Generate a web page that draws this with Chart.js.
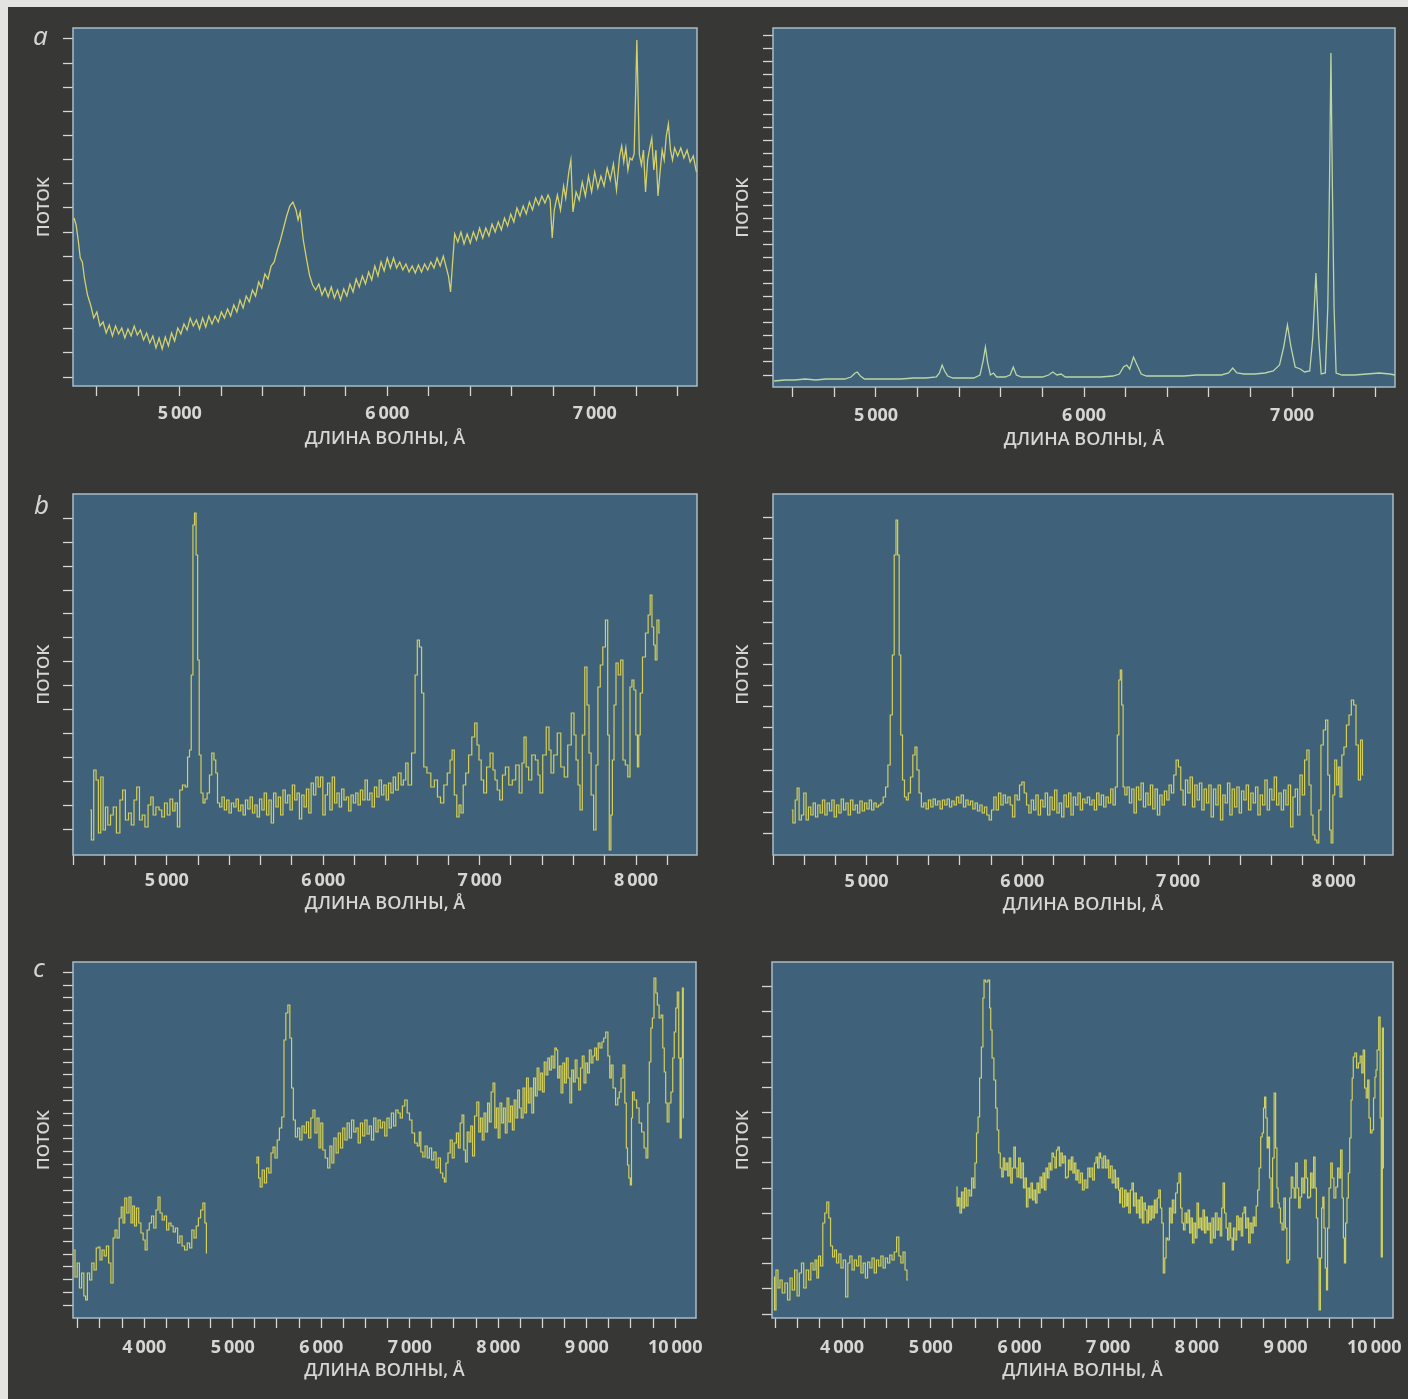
<!DOCTYPE html>
<html>
<head>
<meta charset="utf-8">
<script src="https://cdn.jsdelivr.net/npm/chart.js@4.4.1/dist/chart.umd.min.js"></script>
<style>
  html, body { margin: 0; padding: 0; }
  body { width: 1408px; height: 1399px; background: #e3e3e1; position: relative; overflow: hidden; }
  #sheet { position: absolute; left: 8px; top: 7px; right: 0; bottom: 0; background: #373735; }
  canvas { position: absolute; }
  .tag { position: absolute; color: #d4d4d4; font: italic 26px "Noto Sans", "DejaVu Sans", sans-serif; }
</style>
</head>
<body>
<div id="sheet"></div>
<canvas id="aLeft" width="704" height="460" style="left:0;top:0"></canvas>
<canvas id="aRight" width="704" height="460" style="left:704px;top:0"></canvas>
<canvas id="bLeft" width="704" height="470" style="left:0;top:460px"></canvas>
<canvas id="bRight" width="704" height="470" style="left:704px;top:460px"></canvas>
<canvas id="cLeft" width="704" height="469" style="left:0;top:930px"></canvas>
<canvas id="cRight" width="704" height="469" style="left:704px;top:930px"></canvas>
<div class="tag" style="left:33px;top:17px">a</div>
<div class="tag" style="left:34px;top:486px">b</div>
<div class="tag" style="left:33px;top:949px">c</div>
<script>
// tick labels (wavelength, Å)
const aTickLabels = [5000, 6000, 7000];
const bTickLabels = [5000, 6000, 7000, 8000];
const cTickLabels = [4000, 5000, 6000, 7000, 8000, 9000, 10000];

// flux is in arbitrary units (no scale on the original)
const aLeftWave = [
  4490,4500,4510,4520,4530,4540,4555,4570,4585,4600,
  4615,4630,4645,4660,4675,4690,4705,4720,4735,4750,
  4765,4780,4795,4810,4825,4840,4855,4870,4885,4900,
  4915,4930,4945,4960,4975,4990,5005,5020,5035,5050,
  5065,5080,5095,5110,5125,5140,5155,5170,5185,5200,
  5215,5230,5245,5260,5275,5290,5305,5320,5335,5350,
  5365,5380,5395,5410,5425,5440,5455,5470,5485,5500,
  5515,5530,5545,5560,5570,5580,5595,5610,5625,5640,
  5655,5670,5685,5700,5715,5730,5745,5760,5775,5790,
  5805,5820,5835,5850,5865,5880,5895,5910,5925,5940,
  5955,5970,5985,6000,6015,6030,6045,6060,6075,6090,
  6105,6120,6135,6150,6165,6180,6195,6210,6225,6240,
  6255,6270,6285,6295,6305,6315,6325,6340,6355,6370,
  6385,6400,6415,6430,6445,6460,6475,6490,6505,6520,
  6535,6550,6565,6580,6595,6610,6625,6640,6655,6670,
  6685,6700,6715,6730,6745,6760,6775,6785,6795,6805,
  6820,6835,6850,6860,6875,6885,6895,6910,6925,6940,
  6955,6970,6985,7000,7015,7030,7045,7060,7075,7090,
  7105,7120,7130,7140,7150,7160,7170,7180,7190,7198,
  7203,7208,7215,7225,7235,7245,7255,7265,7275,7285,
  7295,7305,7315,7325,7335,7345,7355,7365,7375,7385,
  7400,7415,7430,7445,7460,7475,7490
];
const aLeftFlux = [
  168,161,146,128,124,108,91,81,68,74,
  60,64,53,61,50,60,52,58,48,57,
  50,60,51,56,46,53,43,50,38,48,
  37,49,40,53,45,58,52,62,56,68,
  60,66,57,68,59,70,62,70,64,74,
  68,77,70,81,74,86,78,90,84,96,
  90,104,98,112,107,120,124,136,146,158,
  170,180,184,176,166,174,146,128,111,101,
  96,102,91,98,89,99,88,96,86,97,
  90,102,94,107,99,110,102,114,106,120,
  110,124,115,128,118,128,118,124,116,122,
  114,120,113,121,114,122,116,124,118,128,
  120,130,118,110,94,124,152,144,154,142,
  152,143,154,146,158,148,158,150,162,154,
  164,156,168,160,172,164,178,170,180,172,
  184,176,188,181,190,183,191,186,148,176,
  191,176,200,188,214,226,174,194,186,204,
  190,210,194,214,198,210,200,218,206,222,
  196,230,240,224,238,216,228,226,232,300,
  346,300,232,221,236,194,226,238,248,216,
  236,190,214,236,226,250,262,236,226,238,
  230,238,228,236,224,230,214
];

const aRightWave = [
  4510,4560,4610,4660,4710,4760,4810,4850,4880,4900,
  4910,4925,4945,5000,5060,5120,5180,5240,5290,5305,
  5318,5330,5345,5370,5420,5470,5500,5515,5526,5537,
  5550,5565,5580,5620,5645,5660,5675,5700,5760,5800,
  5830,5850,5870,5890,5910,5960,6020,6080,6140,6170,
  6190,6205,6220,6238,6255,6275,6300,6360,6420,6480,
  6540,6600,6660,6695,6715,6735,6770,6820,6870,6910,
  6940,6960,6978,6995,7015,7040,7060,7085,7100,7115,
  7128,7140,7160,7172,7180,7187,7194,7202,7212,7240,
  7300,7360,7420,7470,7495
];
const aRightFlux = [
  6,7,7,8,7,8,8,8,10,14,
  15,11,8,8,8,8,9,9,10,14,
  22,16,11,9,9,9,12,26,40,24,
  12,14,10,10,12,20,12,10,10,10,
  12,15,12,13,10,10,10,10,11,13,
  20,22,18,30,22,13,11,11,11,11,
  12,12,12,14,19,14,13,13,14,16,
  22,40,62,40,20,18,15,16,50,114,
  50,13,14,80,200,334,200,80,14,12,
  12,13,14,13,12
];

const bLeftWave = [
  4510,4525,4540,4555,4570,4585,4600,4615,4630,4650,
  4665,4690,4710,4725,4745,4765,4780,4800,4815,4835,
  4850,4870,4890,4905,4920,4940,4960,4975,4995,5010,
  5030,5045,5060,5075,5090,5110,5125,5140,5150,5162,
  5172,5182,5192,5202,5212,5225,5238,5250,5265,5280,
  5295,5308,5318,5330,5345,5360,5375,5390,5405,5420,
  5435,5450,5465,5480,5495,5510,5525,5540,5555,5570,
  5585,5600,5615,5630,5645,5660,5675,5690,5705,5720,
  5735,5750,5765,5780,5795,5810,5825,5840,5855,5870,
  5885,5900,5915,5930,5945,5960,5975,5990,6005,6020,
  6035,6050,6065,6080,6095,6110,6125,6140,6155,6170,
  6185,6200,6215,6230,6245,6260,6275,6290,6305,6320,
  6335,6350,6365,6380,6395,6410,6425,6440,6455,6470,
  6490,6505,6520,6535,6550,6580,6595,6608,6622,6636,
  6650,6676,6700,6721,6740,6760,6782,6804,6818,6830,
  6846,6862,6875,6887,6903,6919,6940,6960,6977,6990,
  7002,7018,7034,7055,7079,7092,7105,7120,7137,7155,
  7175,7198,7220,7242,7264,7278,7290,7305,7322,7345,
  7367,7380,7392,7415,7437,7450,7463,7485,7508,7530,
  7552,7575,7597,7610,7623,7636,7648,7665,7680,7693,
  7706,7720,7738,7750,7763,7780,7795,7814,7824,7834,
  7845,7853,7866,7878,7894,7910,7923,7940,7955,7968,
  7980,7993,8005,8013,8022,8032,8051,8070,8085,8096,
  8108,8118,8128,8140,8153
];
const bLeftFlux = [
  45,15,85,75,22,78,25,48,30,40,
  48,22,55,65,35,42,30,55,68,35,
  40,28,50,58,40,48,45,38,52,40,
  56,44,52,28,65,70,68,98,105,180,
  330,342,300,195,100,62,52,56,62,80,
  102,95,82,52,48,58,45,55,42,52,
  48,56,44,50,40,55,46,58,42,50,
  38,56,45,62,40,55,32,62,48,58,
  40,65,52,60,45,70,55,62,36,60,
  48,66,42,72,60,78,68,78,40,60,
  72,45,78,52,62,48,66,55,58,44,
  60,52,62,50,65,55,75,55,62,48,
  68,58,75,60,70,55,72,62,78,65,
  82,70,75,92,70,102,180,215,208,162,
  88,82,68,75,58,52,70,82,95,105,
  60,38,50,42,70,82,100,118,132,110,
  95,75,62,88,102,85,75,65,55,80,
  88,70,75,90,62,92,118,88,75,100,
  95,80,62,100,128,105,82,100,122,88,
  78,110,142,120,95,70,45,120,188,150,
  102,60,25,90,168,190,208,235,120,5,
  40,95,150,192,180,195,95,90,78,168,
  175,165,120,88,120,162,198,222,240,260,
  228,210,195,235,222
];

const bRightWave = [
  4520,4535,4550,4560,4575,4590,4605,4620,4635,4650,
  4665,4680,4695,4710,4725,4740,4755,4770,4785,4800,
  4815,4830,4845,4860,4875,4890,4905,4920,4935,4950,
  4965,4980,4995,5010,5025,5040,5055,5070,5085,5100,
  5115,5130,5145,5160,5172,5184,5195,5205,5215,5225,
  5238,5250,5262,5275,5290,5305,5318,5330,5345,5360,
  5375,5390,5405,5420,5435,5450,5465,5480,5495,5510,
  5525,5540,5555,5570,5585,5600,5615,5630,5645,5660,
  5675,5690,5705,5720,5735,5750,5765,5780,5795,5810,
  5825,5840,5855,5870,5885,5900,5915,5930,5945,5960,
  5975,5990,6005,6020,6035,6050,6065,6080,6095,6110,
  6125,6140,6155,6170,6185,6200,6215,6230,6245,6260,
  6275,6290,6305,6320,6335,6350,6365,6380,6395,6410,
  6425,6440,6455,6470,6485,6500,6515,6530,6545,6560,
  6575,6590,6605,6615,6625,6634,6643,6652,6665,6680,
  6695,6710,6725,6740,6755,6770,6785,6800,6815,6830,
  6845,6860,6875,6890,6905,6920,6935,6950,6965,6980,
  6995,7010,7025,7040,7055,7070,7085,7100,7115,7130,
  7145,7160,7175,7190,7205,7220,7235,7250,7265,7280,
  7295,7310,7325,7340,7355,7370,7385,7400,7415,7430,
  7445,7460,7475,7490,7505,7520,7535,7550,7565,7580,
  7595,7610,7625,7640,7655,7670,7685,7700,7715,7730,
  7745,7760,7775,7790,7805,7820,7834,7848,7860,7872,
  7885,7898,7910,7925,7940,7955,7968,7978,7988,8000,
  8012,8025,8035,8045,8058,8072,8090,8105,8120,8135,
  8150,8165,8178,8190
];
const bRightFlux = [
  45,32,55,67,35,40,62,35,48,40,
  52,38,50,42,55,40,52,44,55,38,
  50,42,56,45,52,40,55,45,50,42,
  54,44,52,46,55,45,52,48,50,52,
  58,68,90,140,200,300,335,300,200,120,
  75,58,55,62,78,100,108,85,62,48,
  52,46,55,48,56,50,54,46,55,50,
  56,48,54,50,58,52,60,48,55,50,
  54,46,52,44,50,42,48,40,35,45,
  58,45,62,50,60,52,58,50,38,60,
  55,70,73,62,50,42,55,45,60,40,
  55,48,62,40,58,45,65,42,52,38,
  60,48,62,40,58,50,62,45,56,52,
  58,50,55,45,62,50,60,48,58,52,
  66,50,68,120,175,185,150,68,60,68,
  52,66,42,68,55,72,48,62,50,70,
  46,66,40,60,50,64,55,70,62,80,
  95,88,65,50,75,62,78,48,70,55,
  72,45,66,52,70,38,66,50,70,35,
  60,52,72,40,66,48,68,42,64,55,
  70,45,62,52,68,40,60,50,75,45,
  66,55,78,50,62,45,65,50,70,28,
  58,66,40,80,60,95,105,70,40,20,
  15,12,45,110,125,135,80,25,12,60,
  95,70,88,58,100,108,130,140,155,150,
  110,75,115,80
];

// null marks the gap between the blue and red spectra
const cLeftWave = [
  3205,3230,3255,3280,3305,3330,3345,3370,3395,3420,
  3445,3470,3490,3510,3535,3560,3585,3610,3636,3660,
  3680,3705,3730,3750,3770,3790,3815,3840,3860,3880,
  3900,3925,3950,3975,4000,4020,4045,4070,4095,4120,
  4145,4167,4190,4215,4240,4265,4290,4315,4340,4365,
  4390,4415,4440,4472,4500,4525,4550,4575,4600,4625,
  4650,4675,4695,4710,5000,
  5263,5285,5300,5320,5345,5370,5395,5420,5445,5466,
  5490,5515,5540,5568,5590,5610,5636,5655,5675,5695,
  5720,5745,5770,5795,5820,5845,5870,5895,5918,5940,
  5965,5985,6005,6030,6060,6085,6110,6130,6155,6180,
  6205,6230,6255,6280,6305,6330,6355,6380,6405,6430,
  6455,6480,6505,6530,6555,6580,6605,6630,6655,6680,
  6705,6730,6755,6780,6805,6830,6855,6880,6905,6930,
  6958,6985,7010,7040,7070,7100,7116,7135,7161,7185,
  7210,7235,7260,7285,7310,7335,7360,7385,7399,7420,
  7445,7470,7490,7515,7540,7560,7580,7602,7620,7640,
  7660,7680,7700,7720,7745,7771,7790,7810,7830,7850,
  7870,7890,7910,7930,7953,7970,7990,8010,8030,8050,
  8070,8090,8110,8130,8150,8170,8190,8210,8230,8250,
  8270,8290,8310,8330,8350,8370,8390,8410,8430,8450,
  8470,8490,8510,8530,8551,8570,8590,8610,8630,8650,
  8664,8680,8700,8720,8740,8760,8780,8800,8820,8840,
  8860,8880,8900,8920,8940,8960,8980,9000,9020,9040,
  9060,9080,9100,9120,9140,9160,9184,9200,9229,9250,
  9270,9285,9310,9342,9360,9376,9400,9421,9440,9455,
  9467,9485,9500,9512,9523,9550,9579,9605,9636,9660,
  9681,9700,9715,9735,9749,9772,9790,9806,9830,9851,
  9868,9885,9900,9919,9940,9964,9980,9998,10015,10032,
  10048,10062,10075,10088,10095
];
const cLeftFlux = [
  68,41,55,30,45,22,18,45,38,55,
  48,70,71,58,68,62,72,55,35,80,
  88,80,100,111,95,120,105,121,95,112,
  92,110,95,85,78,68,88,95,102,90,
  108,121,105,98,102,88,95,92,86,90,
  75,82,72,68,75,70,88,80,92,100,
  108,115,95,65,null,
  155,161,140,131,148,135,150,145,165,171,
  160,178,190,201,278,305,313,280,230,198,
  181,190,178,192,185,196,180,200,208,185,
  200,170,195,168,160,150,172,155,180,165,
  185,170,190,178,195,180,198,186,190,175,
  195,182,198,184,192,178,200,186,198,190,
  196,182,200,190,205,192,208,205,200,212,
  218,205,198,185,175,172,186,166,161,172,
  160,170,158,166,150,160,145,140,136,155,
  165,178,160,175,185,170,195,203,168,156,
  186,176,192,162,202,216,186,200,178,205,
  186,215,196,226,235,190,210,180,215,195,
  210,185,220,196,212,188,218,200,228,210,
  200,230,205,240,215,230,205,240,222,250,
  228,245,226,256,243,260,248,262,250,270,
  268,240,252,225,255,235,260,240,215,248,
  236,258,240,228,250,262,235,255,245,268,
  255,262,270,258,275,270,276,280,286,262,
  240,253,230,213,220,226,240,253,215,170,
  153,140,133,200,226,218,210,195,186,170,
  160,215,256,290,300,340,325,313,300,303,
  270,246,215,196,215,226,260,286,310,326,
  260,180,260,330,200
];

const cRightWave = [
  3232,3245,3265,3290,3310,3340,3370,3400,3425,3450,
  3480,3505,3530,3555,3580,3610,3635,3660,3685,3706,
  3725,3745,3770,3795,3815,3840,3860,3880,3905,3925,
  3950,3975,4000,4025,4055,4075,4100,4125,4150,4175,
  4200,4225,4250,4275,4300,4325,4350,4375,4400,4425,
  4450,4475,4500,4525,4550,4575,4600,4630,4650,4675,
  4700,4720,4743,5000,
  5288,5305,5320,5338,5355,5372,5390,5410,5430,5450,
  5470,5490,5506,5525,5541,5560,5581,5595,5606,5630,
  5657,5670,5682,5700,5723,5740,5757,5775,5792,5809,
  5825,5842,5859,5876,5893,5910,5928,5945,5962,5982,
  6000,6018,6036,6054,6070,6087,6104,6121,6138,6155,
  6172,6189,6206,6223,6240,6257,6273,6290,6307,6324,
  6341,6358,6375,6391,6408,6425,6441,6458,6475,6492,
  6510,6527,6543,6560,6577,6593,6610,6627,6644,6660,
  6680,6700,6720,6740,6760,6780,6796,6815,6835,6855,
  6872,6890,6907,6922,6940,6960,6980,6997,7015,7035,
  7055,7074,7090,7110,7125,7132,7150,7175,7195,7210,
  7225,7240,7260,7276,7293,7310,7327,7345,7360,7377,
  7395,7410,7428,7445,7462,7478,7495,7512,7529,7545,
  7562,7580,7597,7612,7631,7645,7660,7681,7700,7715,
  7731,7750,7770,7790,7808,7825,7840,7858,7875,7892,
  7909,7926,7942,7959,7976,7993,8010,8027,8043,8060,
  8077,8094,8110,8127,8144,8161,8180,8198,8218,8236,
  8255,8272,8288,8303,8320,8338,8354,8372,8390,8405,
  8420,8440,8458,8476,8492,8508,8525,8541,8558,8575,
  8592,8610,8627,8643,8660,8677,8693,8710,8729,8744,
  8758,8769,8785,8800,8810,8828,8845,8862,8880,8895,
  8910,8921,8935,8950,8971,8990,9006,9022,9037,9055,
  9072,9090,9106,9123,9140,9156,9173,9190,9207,9224,
  9240,9257,9274,9290,9307,9325,9340,9355,9370,9386,
  9400,9413,9426,9440,9455,9467,9480,9500,9518,9535,
  9555,9578,9595,9612,9629,9645,9658,9669,9685,9700,
  9715,9730,9746,9756,9770,9791,9810,9832,9850,9868,
  9882,9900,9918,9933,9948,9965,9983,10000,10015,10024,
  10040,10060,10072,10085,10097,10108
];
const cRightFlux = [
  41,8,48,30,38,25,35,18,40,28,
  48,22,45,55,30,48,38,55,48,58,
  40,62,52,95,105,116,100,72,61,68,
  55,64,50,58,21,55,62,48,58,52,
  62,45,55,40,56,50,60,45,58,52,
  62,50,60,55,63,58,66,81,62,55,
  66,48,38,null,
  131,112,120,105,126,110,130,112,128,122,
  140,130,155,185,201,240,271,320,338,336,
  338,310,288,260,238,210,188,165,150,141,
  160,148,155,142,160,135,150,171,150,141,
  160,140,155,130,140,111,130,120,135,118,
  128,115,135,125,141,130,145,128,150,140,
  155,148,165,161,150,168,171,152,165,155,
  162,140,141,158,148,161,145,155,138,148,
  135,145,128,138,130,150,141,150,138,155,
  161,150,165,160,150,162,150,158,140,152,
  135,148,130,140,128,115,130,111,128,112,
  125,105,128,135,112,125,105,118,100,121,
  95,115,108,95,112,98,112,100,118,105,
  120,128,110,95,45,60,80,78,110,95,
  118,105,125,135,145,110,95,88,105,95,
  108,85,100,75,95,80,115,90,100,88,
  108,85,101,88,95,75,100,80,105,88,
  100,82,110,135,105,90,78,95,80,68,
  90,78,102,88,100,82,105,111,90,100,
  75,95,85,101,92,112,128,150,181,185,
  210,221,200,170,181,140,111,160,225,170,
  130,115,110,95,88,120,90,55,58,120,
  141,130,120,155,130,110,121,140,125,158,
  140,120,121,145,130,161,130,100,60,8,
  60,110,121,90,50,28,90,130,155,140,
  120,131,150,140,168,120,80,55,95,120,
  145,180,218,240,261,265,250,255,262,245,
  268,230,220,238,200,185,188,220,241,248,
  268,301,200,61,290,150
];

const PLOT_BG = '#3f6179';
const FRAME = '#a9bcc7';
const INK = '#d6d6d4';
const FONT = '"Open Sans", "Noto Sans", sans-serif';

// canvas box [left, top, width, height] and plot box [left, top, right, bottom] in page pixels
const panels = [
  { id: 'aLeft', box: [0, 0, 704, 460], plot: [73, 28, 697, 386], wave: aLeftWave, flux: aLeftFlux,
    xMin: 4485, xMax: 7493, xStep: 200, labels: aTickLabels, yTicks: [9, 24.15, 15],
    color: '#d5d169', width: 1.3, stepped: false, yTitlePad: 34, labelPad: 7, titlePad: 10 },
  { id: 'aRight', box: [704, 0, 704, 460], plot: [773, 28, 1395, 387], wave: aRightWave, flux: aRightFlux,
    xMin: 4505, xMax: 7495, xStep: 200, labels: aTickLabels, yTicks: [12, 13.05, 27],
    color: '#bcd6a4', width: 1.3, stepped: false, yTitlePad: 29, labelPad: 8, titlePad: 9 },
  { id: 'bLeft', box: [0, 460, 704, 470], plot: [73, 494, 697, 855], wave: bLeftWave, flux: bLeftFlux,
    xMin: 4400, xMax: 8390, xStep: 200, labels: bTickLabels, yTicks: [26, 23.9, 14],
    color: '#d4cf58', width: 1.2, stepped: 'middle', yTitlePad: 34, labelPad: 5, titlePad: 15 },
  { id: 'bRight', box: [704, 460, 704, 470], plot: [773, 494, 1393, 855], wave: bRightWave, flux: bRightFlux,
    xMin: 4400, xMax: 8380, xStep: 200, labels: bTickLabels, yTicks: [21.7, 21.07, 16],
    color: '#d4cf58', width: 1.2, stepped: 'middle', yTitlePad: 29, labelPad: 6, titlePad: 14 },
  { id: 'cLeft', box: [0, 930, 704, 469], plot: [73, 962, 696, 1318], wave: cLeftWave, flux: cLeftFlux,
    xMin: 3195, xMax: 10235, xStep: 250, labels: cTickLabels, yTicks: [12.8, 12.8, 27],
    color: '#d4cf58', width: 1.2, stepped: 'middle', yTitlePad: 34, labelPad: 9, titlePad: 17 },
  { id: 'cRight', box: [704, 930, 704, 469], plot: [772, 962, 1393, 1318], wave: cRightWave, flux: cRightFlux,
    xMin: 3210, xMax: 10211, xStep: 250, labels: cTickLabels, yTicks: [4, 25.2, 14],
    color: '#d0d05c', width: 1.2, stepped: 'middle', yTitlePad: 29, labelPad: 9, titlePad: 17 }
];

const plotFrame = {
  id: 'plotFrame',
  beforeDraw(chart) {
    const a = chart.chartArea, ctx = chart.ctx;
    ctx.save();
    ctx.fillStyle = PLOT_BG;
    ctx.fillRect(a.left, a.top, a.right - a.left, a.bottom - a.top);
    ctx.restore();
  },
  beforeDatasetsDraw(chart) {
    const a = chart.chartArea, ctx = chart.ctx;
    ctx.save();
    ctx.strokeStyle = FRAME;
    ctx.lineWidth = 1.5;
    ctx.strokeRect(a.left, a.top, a.right - a.left, a.bottom - a.top);
    ctx.restore();
  }
};

function thousands(v) {
  const s = String(v);
  return s.slice(0, s.length - 3) + '\u2009' + s.slice(-3);
}

function draw(p) {
  const [bx, by, bw, bh] = p.box;
  const [pl, pt, pr, pb] = p.plot;
  const points = p.wave.map((w, i) => ({ x: w, y: p.flux[i] }));
  new Chart(document.getElementById(p.id), {
    type: 'line',
    data: {
      datasets: [{
        data: points,
        borderColor: p.color,
        borderWidth: p.width,
        pointRadius: 0,
        tension: 0,
        stepped: p.stepped,
        spanGaps: false
      }]
    },
    options: {
      responsive: false,
      animation: false,
      layout: { padding: { left: 0, top: pt - by, right: bx + bw - pr, bottom: 0 } },
      plugins: { legend: { display: false }, tooltip: { enabled: false } },
      scales: {
        x: {
          type: 'linear',
          min: p.xMin,
          max: p.xMax,
          // fixed axis box; edge labels may overhang the plot like in the print
          afterFit: s => { s.height = by + bh - pb; s.paddingLeft = 0; s.paddingRight = 0; },
          // minor ticks every xStep Å, labelled every 1000 Å
          afterBuildTicks: s => {
            const t = [];
            for (let v = Math.ceil(p.xMin / p.xStep) * p.xStep; v <= p.xMax; v += p.xStep) t.push({ value: v });
            s.ticks = t;
          },
          border: { display: false },
          grid: { drawOnChartArea: false, drawTicks: true, tickLength: 10, tickColor: INK, tickWidth: 1.3 },
          ticks: {
            autoSkip: false,
            maxRotation: 0,
            padding: p.labelPad,
            color: INK,
            font: { family: FONT, size: 18, weight: '700' },
            callback: v => p.labels.includes(v) ? thousands(v) : ''
          },
          title: {
            display: true,
            text: 'ДЛИНА ВОЛНЫ, Å',
            color: INK,
            font: { family: FONT, size: 18, weight: '600' },
            padding: { top: 0, bottom: p.titlePad }
          }
        },
        y: {
          min: 0,
          max: pb - pt,
          afterFit: s => { s.width = pl - bx; s.paddingTop = 0; s.paddingBottom = 0; },
          afterBuildTicks: s => {
            const [start, step, count] = p.yTicks;
            const t = [];
            for (let k = 0; k < count; k++) t.push({ value: start + k * step });
            s.ticks = t;
          },
          border: { display: false },
          grid: { drawOnChartArea: false, drawTicks: true, tickLength: 10, tickColor: INK, tickWidth: 1.3 },
          ticks: { display: false },
          title: {
            display: true,
            text: 'ПОТОК',
            color: INK,
            font: { family: FONT, size: 17, weight: '600' },
            padding: { top: p.yTitlePad, bottom: 0 }
          }
        }
      }
    },
    plugins: [plotFrame]
  });
}

panels.forEach(draw);
</script>
</body>
</html>
